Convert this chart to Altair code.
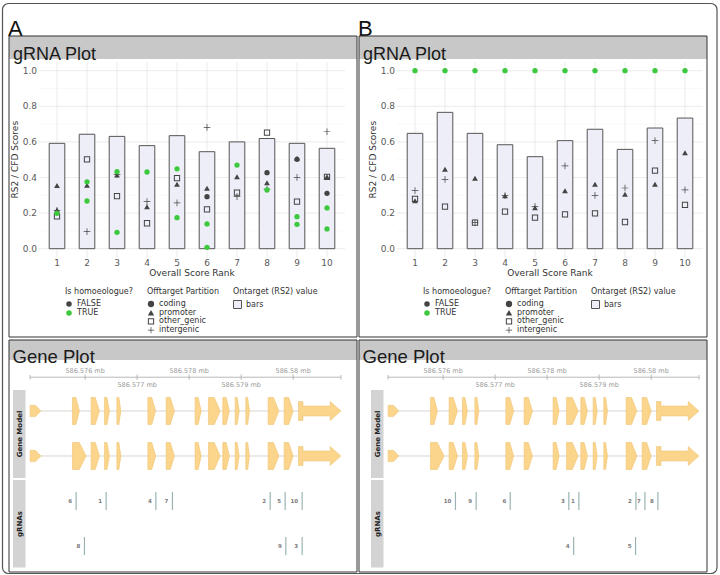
import altair as alt
import pandas as pd

# ---------------- gRNA plot data ----------------
ranks = [1, 2, 3, 4, 5, 6, 7, 8, 9, 10]
rank_labels = ["1", "2", "3", "4", "5", "6", "7", "8", "9", "10"]
y_ticks = [0.0, 0.2, 0.4, 0.6, 0.8, 1.0]
y_tick_labels = ["0.0", "0.2", "0.4", "0.6", "0.8", "1.0"]
y_minor = [0.1, 0.3, 0.5, 0.7, 0.9]

rs2_A = [0.592, 0.643, 0.631, 0.579, 0.635, 0.545, 0.600, 0.619, 0.592, 0.564]
rs2_B = [0.648, 0.766, 0.648, 0.584, 0.517, 0.607, 0.671, 0.558, 0.678, 0.734]

homo_levels = ["FALSE", "TRUE"]
part_levels = ["coding", "promoter", "other_genic", "intergenic"]

offA_rank = [1, 1, 1, 1, 1,
             2, 2, 2, 2, 2,
             3, 3, 3, 3, 3,
             4, 4, 4, 4,
             5, 5, 5, 5, 5,
             6, 6, 6, 6, 6, 6,
             7, 7, 7, 7,
             8, 8, 8, 8, 8,
             9, 9, 9, 9, 9, 9,
             10, 10, 10, 10, 10, 10]
offA_score = [0.355, 0.218, 0.215, 0.182, 0.199,
              0.502, 0.356, 0.096, 0.376, 0.268,
              0.414, 0.418, 0.296, 0.433, 0.092,
              0.264, 0.236, 0.143, 0.431,
              0.397, 0.362, 0.258, 0.449, 0.174,
              0.682, 0.339, 0.292, 0.221, 0.139, 0.008,
              0.404, 0.315, 0.293, 0.470,
              0.652, 0.427, 0.371, 0.335, 0.330,
              0.508, 0.502, 0.401, 0.264, 0.180, 0.137,
              0.657, 0.404, 0.404, 0.311, 0.229, 0.111]
offA_homo = ["FALSE", "FALSE", "FALSE", "FALSE", "TRUE",
             "FALSE", "FALSE", "FALSE", "TRUE", "TRUE",
             "FALSE", "FALSE", "FALSE", "TRUE", "TRUE",
             "FALSE", "FALSE", "FALSE", "TRUE",
             "FALSE", "FALSE", "FALSE", "TRUE", "TRUE",
             "FALSE", "FALSE", "FALSE", "FALSE", "TRUE", "TRUE",
             "FALSE", "FALSE", "FALSE", "TRUE",
             "FALSE", "FALSE", "FALSE", "FALSE", "TRUE",
             "FALSE", "FALSE", "FALSE", "FALSE", "TRUE", "TRUE",
             "FALSE", "FALSE", "FALSE", "FALSE", "TRUE", "TRUE"]
offA_part = ["promoter", "promoter", "intergenic", "other_genic", "coding",
             "other_genic", "promoter", "intergenic", "coding", "coding",
             "promoter", "intergenic", "other_genic", "coding", "coding",
             "intergenic", "promoter", "other_genic", "coding",
             "other_genic", "promoter", "intergenic", "coding", "coding",
             "intergenic", "promoter", "coding", "other_genic", "coding", "coding",
             "promoter", "other_genic", "intergenic", "coding",
             "other_genic", "coding", "promoter", "intergenic", "coding",
             "promoter", "coding", "intergenic", "other_genic", "coding", "coding",
             "intergenic", "other_genic", "promoter", "coding", "coding", "coding"]

offB_rank = [1, 1, 1, 1, 2, 2, 2, 2, 3, 3, 3, 3, 4, 4, 4, 4, 5, 5, 5, 5,
             6, 6, 6, 6, 7, 7, 7, 7, 8, 8, 8, 8, 9, 9, 9, 9, 10, 10, 10, 10]
offB_score = [1.0, 0.326, 0.280, 0.270,
              1.0, 0.446, 0.390, 0.236,
              1.0, 0.396, 0.146, 0.146,
              1.0, 0.298, 0.298, 0.208,
              1.0, 0.238, 0.230, 0.174,
              1.0, 0.465, 0.326, 0.193,
              1.0, 0.362, 0.300, 0.199,
              1.0, 0.341, 0.306, 0.150,
              1.0, 0.607, 0.438, 0.362,
              1.0, 0.539, 0.330, 0.246]
offB_homo = ["TRUE", "FALSE", "FALSE", "FALSE"] * 10
offB_part = ["coding", "intergenic", "other_genic", "promoter",
             "coding", "promoter", "intergenic", "other_genic",
             "coding", "promoter", "other_genic", "intergenic",
             "coding", "promoter", "intergenic", "other_genic",
             "coding", "intergenic", "promoter", "other_genic",
             "coding", "intergenic", "promoter", "other_genic",
             "coding", "promoter", "intergenic", "other_genic",
             "coding", "intergenic", "promoter", "other_genic",
             "coding", "intergenic", "other_genic", "promoter",
             "coding", "promoter", "intergenic", "other_genic"]

# ---------------- Gene plot data (Mb) ----------------
gene_range = [586.57494, 586.58092]
gene_ticks = [586.576, 586.577, 586.578, 586.579, 586.580]
gene_tick_labels = ["586.576 mb", "586.577 mb", "586.578 mb", "586.579 mb", "586.58 mb"]

tx1_start = [586.574942, 586.575756, 586.576115, 586.576371, 586.576610, 586.577206, 586.577558,
             586.578115, 586.578371, 586.578648, 586.578885, 586.579090, 586.579519, 586.579827, 586.580103]
tx1_end = [586.575148, 586.575890, 586.576275, 586.576467, 586.576687, 586.577356, 586.577717,
           586.578231, 586.578596, 586.578775, 586.578962, 586.579160, 586.579725, 586.580000, 586.580917]
tx2_start = [586.574942, 586.575756, 586.576115, 586.576371, 586.576610, 586.577206, 586.577558,
             586.578115, 586.578371, 586.578648, 586.578885, 586.579090, 586.579519, 586.579827, 586.580103]
tx2_end = [586.575148, 586.576019, 586.576275, 586.576467, 586.576687, 586.577356, 586.577717,
           586.578231, 586.578596, 586.578775, 586.578962, 586.579160, 586.579725, 586.580000, 586.580917]

grA_label = ["6", "1", "4", "7", "2", "5", "10", "8", "9", "3"]
grA_pos = [586.575827, 586.576404, 586.577360, 586.577679, 586.579558, 586.579846, 586.580173,
           586.575987, 586.579859, 586.580173]
grA_row = [1, 1, 1, 1, 1, 1, 1, 2, 2, 2]

grB_label = ["10", "9", "6", "3", "1", "2", "7", "8", "4", "5"]
grB_pos = [586.576237, 586.576635, 586.577290, 586.578417, 586.578610, 586.579707, 586.579880,
           586.580130, 586.578510, 586.579700]
grB_row = [1, 1, 1, 1, 1, 1, 1, 1, 2, 2]

# ---------------- styles ----------------
FONT = "DejaVu Sans"
HFONT = "Liberation Sans"
GREEN = "#3DC93D"
DARK = "#444444"
EXON = "#FBD58C"
SQ = "M-1,-1L1,-1L1,1L-1,1Z M-0.68,-0.68L-0.68,0.68L0.68,0.68L0.68,-0.68Z"
PLUS = "M-1,-0.11L1,-0.11L1,0.11L-1,0.11Z M-0.11,-1L0.11,-1L0.11,1L-0.11,1Z"
SHAPES = ["circle", "triangle-up", SQ, PLUS]
SIZES = [28, 45, 36, 81]


def one():
    return pd.DataFrame({"d": [0]})


def txt(s, x, y, **kw):
    return alt.Chart(pd.DataFrame({"t": [s]})).mark_text(**kw).encode(
        x=alt.value(x), y=alt.value(y), text="t:N")


def box(x0, x1, y0, y1, **kw):
    return alt.Chart(one()).mark_rect(**kw).encode(
        x=alt.value(x0), x2=alt.value(x1), y=alt.value(y0), y2=alt.value(y1))


def decor(lab, off):
    return [
        txt(lab, 8 + off, 29, font=HFONT, fontSize=22, align="left", color="#111"),
        box(9 + off, 357 + off, 36, 59, fill="#C8C8C8"),
        box(9 + off, 357 + off, 36, 337, fillOpacity=0, stroke="#333", strokeWidth=1),
        txt("gRNA Plot", 13 + off, 54.5, font=HFONT, fontSize=18, align="left", color="#1a1a1a"),
        box(9 + off, 357 + off, 340, 360, fill="#C8C8C8"),
        box(9 + off, 357 + off, 340, 572, fillOpacity=0, stroke="#333", strokeWidth=1),
        txt("Gene Plot", 12.5 + off, 357, font=HFONT, fontSize=18.5, align="left", color="#1a1a1a"),
    ]


def legend(title, x, **kw):
    return alt.Legend(title=title, orient="none", legendX=x, legendY=288,
                      labelFont=FONT, titleFont=FONT, labelFontSize=8, titleFontSize=8,
                      titleFontWeight="normal", titleColor="#333", labelColor="#333",
                      titlePadding=4, padding=0, **kw)


def grna_panel(off, rs2, pr, ps, ph, pp):
    sx = alt.Scale(domain=[0.4, 10.6], range=[39 + off, 345 + off], nice=False, zero=False)
    sy = alt.Scale(domain=[-0.05, 1.05], range=[257.6, 61.8], nice=False, zero=False)
    layers = []
    layers.append(alt.Chart(pd.DataFrame({"v": y_minor})).mark_rule(color="#F3F3F3", strokeWidth=0.6).encode(
        y=alt.Y("v:Q", scale=sy, axis=None),
        x=alt.XDatum(0.4, scale=sx, axis=None), x2=alt.X2Datum(10.6)))
    layers.append(alt.Chart(pd.DataFrame({"v": y_ticks})).mark_rule(color="#E6E6E6", strokeWidth=0.8).encode(
        y=alt.Y("v:Q", scale=sy, axis=None),
        x=alt.XDatum(0.4, scale=sx, axis=None), x2=alt.X2Datum(10.6)))
    layers.append(alt.Chart(pd.DataFrame({"r": ranks})).mark_rule(color="#E6E6E6", strokeWidth=0.8).encode(
        x=alt.X("r:Q", scale=sx, axis=None),
        y=alt.YDatum(-0.05, scale=sy, axis=None), y2=alt.Y2Datum(1.05)))
    bars = pd.DataFrame({"rank": ranks, "rs2": rs2, "what": ["bars"] * len(ranks)})
    layers.append(alt.Chart(bars).transform_calculate(
        x0="datum.rank - 0.26", x1="datum.rank + 0.26").mark_rect(stroke="#555", strokeWidth=1).encode(
        x=alt.X("x0:Q", scale=sx, axis=None), x2="x1:Q",
        y=alt.Y("rs2:Q", scale=sy, axis=None), y2=alt.Y2Datum(0),
        fill=alt.Fill("what:N", scale=alt.Scale(domain=["bars"], range=["#EEEEF9"]),
                      legend=legend("Ontarget (RS2) value", 233 + off, symbolType="square",
                                    symbolSize=64, symbolStrokeColor="#555", symbolStrokeWidth=1))))
    pts = pd.DataFrame({"rank": pr, "score": ps, "homo": ph, "part": pp})
    pts["kind"] = pts["part"]
    pts["i"] = list(range(len(pts)))
    layers.append(alt.Chart(pts).mark_point(filled=True, opacity=1, strokeWidth=0).encode(
        x=alt.X("rank:Q", scale=sx, axis=None),
        y=alt.Y("score:Q", scale=sy, axis=None),
        color=alt.Color("homo:N", scale=alt.Scale(domain=homo_levels, range=[DARK, GREEN]),
                        legend=legend("Is homoeologue?", 65 + off, symbolType="circle", symbolSize=30,
                                      symbolStrokeWidth=0, rowPadding=1)),
        shape=alt.Shape("part:N", scale=alt.Scale(domain=part_levels, range=SHAPES), legend=None),
        size=alt.Size("kind:N", scale=alt.Scale(domain=part_levels, range=SIZES), legend=None),
        order=alt.Order("i:Q")))
    # legend-only layer for the partition shapes (no marks drawn)
    layers.append(alt.Chart(pts).transform_filter("false").mark_point(
        filled=True, color=DARK, opacity=1, strokeWidth=0).encode(
        x=alt.X("rank:Q", scale=sx, axis=None),
        y=alt.Y("score:Q", scale=sy, axis=None),
        shape=alt.Shape("part:N", scale=alt.Scale(domain=part_levels, range=SHAPES),
                        legend=legend("Offtarget Partition", 147 + off, symbolSize=40,
                                      symbolFillColor=DARK, symbolStrokeWidth=0, rowPadding=0.7))))
    layers.append(alt.Chart(pd.DataFrame({"r": ranks, "t": rank_labels})).mark_text(
        font=FONT, fontSize=9, color="#5a5a5a", baseline="middle").encode(
        x=alt.X("r:Q", scale=sx, axis=None), y=alt.value(262.7), text="t:N"))
    layers.append(alt.Chart(pd.DataFrame({"v": y_ticks, "t": y_tick_labels})).mark_text(
        font=FONT, fontSize=9, color="#5a5a5a", baseline="middle", align="right").encode(
        y=alt.Y("v:Q", scale=sy, axis=None), x=alt.value(37 + off), text="t:N"))
    layers.append(txt("Overall Score Rank", 192 + off, 272.7, font=FONT, fontSize=9, color="#333",
                      baseline="middle"))
    layers.append(txt("RS2 / CFD Scores", 15 + off, 159.7, font=FONT, fontSize=9, color="#333",
                      baseline="middle", angle=270))
    return layers


def exon_outline(starts, ends, center, tag):
    """Closed outline of each exon glyph (body + arrow tip), in path order."""
    rows = []
    n = len(starts)
    for i, (s, e) in enumerate(zip(starts, ends)):
        w = e - s
        if i == n - 1:
            wb, tip = 0.105 * w, 0.25 * w
            top = [(s, 0.42), (s + wb, 0.42), (s + wb, 0.22), (e - tip, 0.22), (e - tip, 0.42), (e, 0.0)]
        else:
            h = 0.25 if i == 0 else 0.6
            top = [(s, h), (s + 0.5 * w, h), (e, 0.0)]
        ring = [(x, center + h) for x, h in top] + [(x, center - h) for x, h in reversed(top[:-1])]
        ring.append(ring[0])
        for k, (x, y) in enumerate(ring):
            rows.append({"ex": f"{tag}{i}", "gx": x, "gy": y, "k": k})
    return rows


def gene_panel(off, glab, gpos, grow):
    sx = alt.Scale(domain=gene_range, range=[30 + off, 341 + off], nice=False, zero=False)
    sy = alt.Scale(domain=[0, 9.07], range=[568.5, 364.4], nice=False, zero=False)
    L = []
    L.append(box(13 + off, 25.5 + off, 390, 478, fill="#D3D3D3"))
    L.append(box(13 + off, 25.5 + off, 480, 567.5, fill="#D3D3D3"))
    L.append(txt("Gene Model", 19.5 + off, 434, font=FONT, fontSize=7, fontWeight="bold", color="#222",
                 angle=270, baseline="middle"))
    L.append(txt("gRNAs", 19.5 + off, 524, font=FONT, fontSize=7, fontWeight="bold", color="#222",
                 angle=270, baseline="middle"))
    L.append(alt.Chart(pd.DataFrame({"a": [gene_range[0]], "b": [gene_range[1]]})).mark_rule(
        color="#A8A8A8", strokeWidth=0.8).encode(
        x=alt.X("a:Q", scale=sx, axis=None), x2="b:Q", y=alt.YDatum(8.5, scale=sy, axis=None)))
    L.append(alt.Chart(pd.DataFrame({"p": gene_range})).mark_rule(color="#A8A8A8", strokeWidth=0.8).encode(
        x=alt.X("p:Q", scale=sx, axis=None), y=alt.YDatum(8.4, scale=sy, axis=None), y2=alt.Y2Datum(8.6)))
    tk = pd.DataFrame({"p": gene_ticks, "t": gene_tick_labels, "j": list(range(len(gene_ticks)))})
    L.append(alt.Chart(tk).mark_rule(color="#A8A8A8", strokeWidth=0.8).encode(
        x=alt.X("p:Q", scale=sx, axis=None), y=alt.YDatum(8.38, scale=sy, axis=None), y2=alt.Y2Datum(8.62)))
    L.append(alt.Chart(tk).transform_filter("datum.j % 2 == 0").mark_text(
        font=FONT, fontSize=6.5, color="#9A9A9A", baseline="middle", dy=-6.5).encode(
        x=alt.X("p:Q", scale=sx, axis=None), y=alt.YDatum(8.5, scale=sy, axis=None), text="t:N"))
    L.append(alt.Chart(tk).transform_filter("datum.j % 2 == 1").mark_text(
        font=FONT, fontSize=6.5, color="#9A9A9A", baseline="middle", dy=7.5).encode(
        x=alt.X("p:Q", scale=sx, axis=None), y=alt.YDatum(8.5, scale=sy, axis=None), text="t:N"))
    tx = pd.DataFrame({"a": [min(tx1_start), min(tx2_start)], "b": [max(tx1_end), max(tx2_end)],
                       "c": [7, 5]})
    L.append(alt.Chart(tx).mark_rule(color="#DAD6CE", strokeWidth=1).encode(
        x=alt.X("a:Q", scale=sx, axis=None), x2="b:Q", y=alt.Y("c:Q", scale=sy, axis=None)))
    ex = pd.DataFrame(exon_outline(tx1_start, tx1_end, 7, "a") + exon_outline(tx2_start, tx2_end, 5, "b"))
    L.append(alt.Chart(ex).mark_line(fill=EXON, stroke="#EFC272", strokeWidth=0.6, interpolate="linear").encode(
        x=alt.X("gx:Q", scale=sx, axis=None),
        y=alt.Y("gy:Q", scale=sy, axis=None),
        detail="ex:N", order=alt.Order("k:Q")))
    gr = pd.DataFrame({"t": glab, "p": gpos, "row": grow})
    gbase = alt.Chart(gr).transform_calculate(c="5 - 2 * datum.row", c0="4.6 - 2 * datum.row",
                                              c1="5.4 - 2 * datum.row")
    L.append(gbase.mark_rule(color="#9BB3B3", strokeWidth=1.2).encode(
        x=alt.X("p:Q", scale=sx, axis=None), y=alt.Y("c0:Q", scale=sy, axis=None), y2="c1:Q"))
    L.append(gbase.mark_text(font=FONT, fontSize=5.5, fontWeight="bold", color="#7A7A7A",
                             align="right", baseline="middle", dx=-4).encode(
        x=alt.X("p:Q", scale=sx, axis=None), y=alt.Y("c:Q", scale=sy, axis=None), text="t:N"))
    return L


layers = [box(2.5, 717, 3.5, 573.5, fillOpacity=0, stroke="#555", strokeWidth=1.2, cornerRadius=6)]
layers += decor("A", 0) + decor("B", 350)
layers += grna_panel(0, rs2_A, offA_rank, offA_score, offA_homo, offA_part)
layers += grna_panel(358, rs2_B, offB_rank, offB_score, offB_homo, offB_part)
layers += gene_panel(0, grA_label, grA_pos, grA_row)
layers += gene_panel(358, grB_label, grB_pos, grB_row)

chart = alt.layer(*layers).resolve_scale(
    x="independent", y="independent", color="independent", shape="independent",
    size="independent", fill="independent"
).properties(
    width=720, height=575, autosize=alt.AutoSizeParams(type="none"), padding=0,
    background="white"
).configure_view(stroke=None)

chart.save("out.html", embed_options={"renderer": "svg", "actions": False})
